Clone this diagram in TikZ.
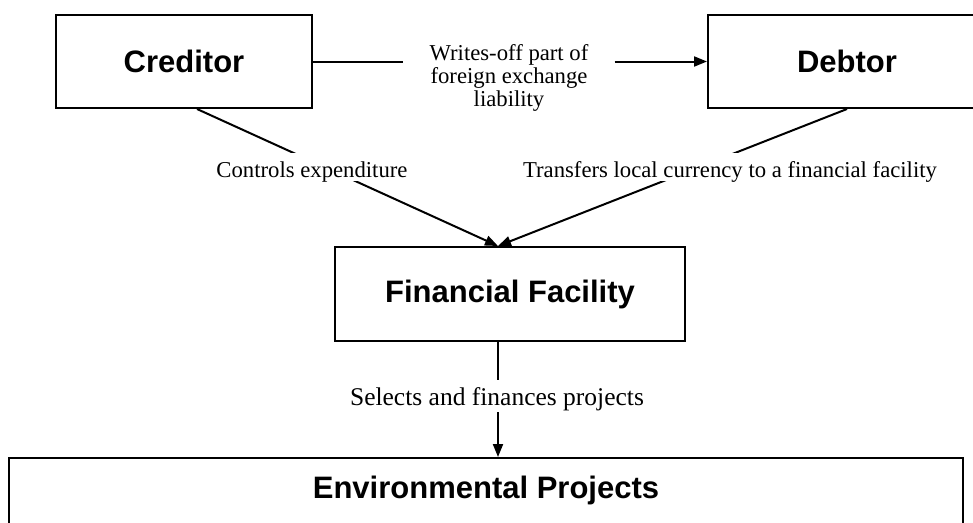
\documentclass[tikz,border=0pt]{standalone}
\usepackage{fontspec}
\setmainfont{Liberation Serif}
\newfontfamily\boxfont{Liberation Sans}
\usetikzlibrary{arrows.meta}
\begin{document}
\begin{tikzpicture}[x=1pt,y=-1pt,
  box/.style={draw,line width=2pt,inner sep=0pt,
    font=\boxfont\bfseries\fontsize{31}{36}\selectfont},
  lbl/.style={font=\fontsize{22.7}{23}\selectfont,inner sep=0pt},
  gap/.style={lbl,fill=white,text height=24pt,text depth=4pt},
  link/.style={line width=2pt},
  arr/.style={link,-{Triangle[length=13pt,width=10pt]}}]
\useasboundingbox (0,0) rectangle (973,522);
\begin{scope}
\clip (0,0) rectangle (973,522);
% boxes
\node[box,minimum width=256pt,minimum height=93pt] (cr) at (184,61.5) {Creditor};
\node[box,minimum width=278pt,minimum height=93pt] (db) at (847,61.5) {Debtor};
\node[box,minimum width=350pt,minimum height=94pt] (ff) at (510,294) {Financial Facility};
\node[box,minimum width=954pt,text height=40pt,text depth=43pt,anchor=north] (ep) at (486,457) {Environmental Projects};

% write-off label and arrow
\node[lbl,align=center,anchor=north,inner xsep=26pt] (wl) at (509,44.5)
  {Writes-off part of\\foreign exchange\\liability};
\draw[link] (cr.east) -- (cr.east -| wl.west);
\draw[arr] (cr.east -| wl.east) -- (db.west);

% flows into the financial facility
\coordinate (fin) at ([xshift=-12pt]ff.north);
\draw[arr] ([xshift=13pt]cr.south) -- (fin);
\draw[arr] (db.south) -- (fin);
\node[gap,anchor=base] (ce) at (312,177) {Controls expenditure};
\node[gap,anchor=base] (tl) at (730,177) {Transfers local currency to a financial facility};

% flow to projects
\coordinate (fout) at ([xshift=-12pt]ff.south);
\draw[arr] (fout) -- (fout |- ep.north);
\node[lbl,fill=white,font=\fontsize{25.5}{27}\selectfont,text height=25pt,text depth=7pt,anchor=base] (sp) at (497,405) {Selects and finances projects};
\end{scope}
\end{tikzpicture}
\end{document}
